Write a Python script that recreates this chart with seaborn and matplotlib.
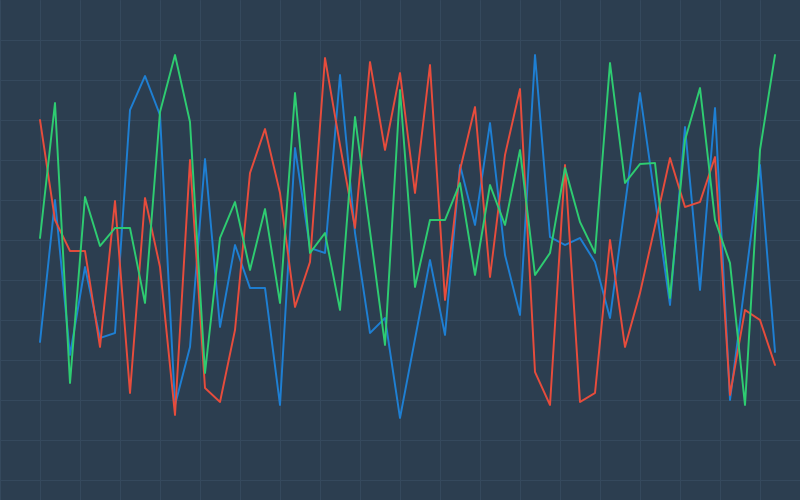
import numpy as np
import pandas as pd
import matplotlib
matplotlib.use("Agg")
import matplotlib.pyplot as plt
import seaborn as sns

# values (0-100 scale), 50 points per series
red = [76, 56, 49.8, 49.8, 30.6, 59.8, 21.4, 60.4, 46.6, 17,
       68, 22.4, 19.6, 34, 65.4, 74.2, 61.4, 38.6, 47.6, 88.4,
       71, 54.4, 87.6, 70, 85.4, 61.4, 87, 40, 66, 78.6,
       44.6, 69, 82.2, 25.6, 19, 67, 19.6, 21.4, 52, 30.6,
       41.4, 54.8, 68.4, 58.6, 59.6, 68.6, 21, 38, 36, 27]
blue = [31.6, 60, 29, 46.6, 32.4, 33.4, 78, 84.8, 77, 19,
        30.6, 68.2, 34.6, 51, 42.4, 42.4, 19, 70.4, 50.4, 49.4,
        85, 53.4, 33.4, 36.4, 16.4, 32.2, 48, 33, 67, 55,
        75.4, 49, 37, 89, 52.6, 51, 52.4, 47.6, 36.4, 59,
        81.4, 60.2, 39, 74.6, 42, 78.4, 20, 43.4, 67, 29.6]
green = [52.4, 79.4, 23.4, 60.6, 50.8, 54.4, 54.4, 39.4, 77.6, 89,
         75.6, 25.4, 52.4, 59.6, 46, 58.2, 39.4, 81.4, 49.4, 53.4,
         38, 76.6, 53.8, 31, 82, 42.6, 56, 56, 63.4, 45,
         63, 55, 70, 45, 49.4, 66.4, 55.6, 49.4, 87.4, 63.4,
         67.2, 67.4, 40.4, 72, 82.4, 56, 47.4, 19, 70, 89]
names = ["Series A", "Series B", "Series C"]
colors = ["#1e7fd3", "#e74c3c", "#2ecc71"]

idx = np.arange(len(red))
df = pd.DataFrame({
    "x": np.concatenate([idx, idx, idx]),
    "value": blue + red + green,
    "series": np.repeat(names, len(idx)),
})

bg = "#2c3e50"
sns.set_theme(style="darkgrid", rc={
    "axes.facecolor": bg,
    "figure.facecolor": bg,
    "grid.color": "#35495d",
    "grid.linewidth": 0.8,
})

fig = plt.figure(figsize=(8, 5), dpi=100)
ax = fig.add_axes([0, 0, 1, 1])
sns.lineplot(data=df, x="x", y="value", hue="series", palette=colors,
             linewidth=1.4, legend=False, ax=ax)

ax.set_xlim(-40 / 15, 760 / 15)
ax.set_ylim(0, 100)
ax.set_xticks((np.arange(0, 800, 40) - 40) / 15)
ax.set_yticks(np.arange(4, 100, 8))
ax.tick_params(length=0, labelbottom=False, labelleft=False)
ax.set_xlabel("")
ax.set_ylabel("")
for s in ax.spines.values():
    s.set_visible(False)

fig.savefig("out.png", dpi=100, facecolor=bg)
